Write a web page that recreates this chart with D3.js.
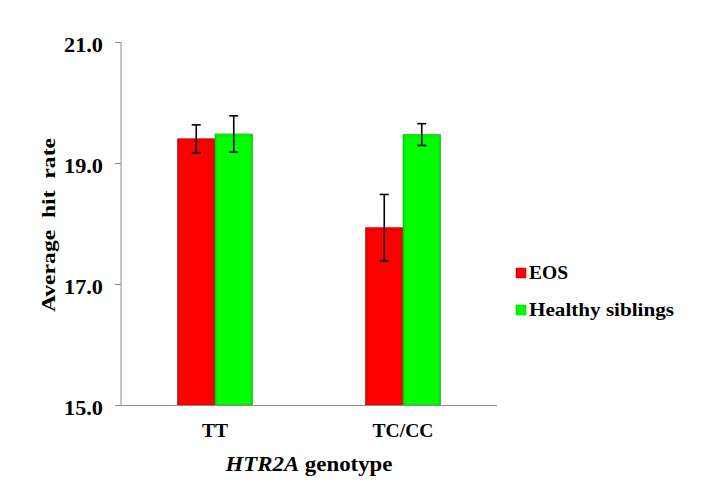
<!DOCTYPE html>
<html>
<head>
<meta charset="utf-8">
<script src="https://cdn.jsdelivr.net/npm/d3@7"></script>
<style>
    body { margin: 0; background: #fff; }
    svg text { font-family: "Liberation Serif", "Times New Roman", Times, "DejaVu Serif", serif; font-weight: bold; fill: #000; }
</style>
</head>
<body>
<svg width="704" height="498"></svg>
<script>
const genotypes = ["TT", "TC/CC"];
const groups = ["EOS", "Healthy siblings"];
const means = {
    "EOS": [19.40, 17.93],
    "Healthy siblings": [19.48, 19.47]
};
const errors = {
    "EOS": [0.23, 0.55],
    "Healthy siblings": [0.30, 0.18]
};
const yTicks = [15, 17, 19, 21];
const colors = ["#ff0000", "#00ff00"];
const edges = ["#c80000", "#00b400"];

const svg = d3.select("svg");
const defs = svg.append("defs");

// soft bevel look on the bars
colors.forEach((c, i) => {
    const g = defs.append("linearGradient")
        .attr("id", "grad" + i)
        .attr("x1", 0).attr("x2", 1).attr("y1", 0).attr("y2", 0);
    g.append("stop").attr("offset", "0%").attr("stop-color", d3.color(c).darker(0.4));
    g.append("stop").attr("offset", "8%").attr("stop-color", c);
    g.append("stop").attr("offset", "92%").attr("stop-color", c);
    g.append("stop").attr("offset", "100%").attr("stop-color", d3.color(c).darker(0.4));
});

const y = d3.scaleLinear([15, 21], [405, 42]);
const x = d3.scaleBand(genotypes, [121, 497]);
const xs = d3.scaleBand(groups, [0, 75]);

// bars
const bars = svg.append("g");
genotypes.forEach((gt, gi) => {
    const off = x(gt) + x.bandwidth() / 2 - 37.5;
    groups.forEach((gr, si) => {
        const v = means[gr][gi];
        const e = errors[gr][gi];
        const bx = off + xs(gr);
        bars.append("rect")
            .attr("x", bx)
            .attr("y", y(v))
            .attr("width", xs.bandwidth())
            .attr("height", y(15) - y(v))
            .attr("fill", "url(#grad" + si + ")")
            .attr("stroke", edges[si])
            .attr("stroke-width", 0.6);
        bars.append("rect")
            .attr("x", bx + 1)
            .attr("y", y(v))
            .attr("width", xs.bandwidth() - 2)
            .attr("height", 4)
            .attr("fill", d3.color(colors[si]).darker(0.25))
            .attr("opacity", 0.6);
        const cx = bx + xs.bandwidth() / 2;
        const eb = bars.append("g").attr("stroke", "#000").attr("stroke-width", 1.6);
        eb.append("line").attr("x1", cx).attr("x2", cx).attr("y1", y(v + e)).attr("y2", y(v - e));
        eb.append("line").attr("x1", cx - 4.5).attr("x2", cx + 4.5).attr("y1", y(v + e)).attr("y2", y(v + e));
        eb.append("line").attr("x1", cx - 4.5).attr("x2", cx + 4.5).attr("y1", y(v - e)).attr("y2", y(v - e));
    });
});

// y axis
const yAxis = svg.append("g")
    .attr("transform", "translate(121,0)")
    .call(d3.axisLeft(y).tickValues(yTicks).tickFormat(d3.format(".1f")).tickSize(6).tickPadding(12));
yAxis.attr("font-family", null);
yAxis.selectAll("line, path").attr("stroke", "#8c8c8c");
yAxis.select(".domain").attr("d", "M0,42V405");
yAxis.selectAll("text")
    .attr("font-size", 20)
    .attr("dy", "0.46em")
    .attr("textLength", 39)
    .attr("lengthAdjust", "spacingAndGlyphs");

// x axis line
svg.append("line")
    .attr("x1", 115).attr("x2", 497)
    .attr("y1", 405.5).attr("y2", 405.5)
    .attr("stroke", "#8c8c8c");

svg.append("g").selectAll("text")
    .data(genotypes)
    .join("text")
    .attr("x", d => x(d) + x.bandwidth() / 2)
    .attr("y", 437)
    .attr("text-anchor", "middle")
    .attr("font-size", 18)
    .attr("textLength", d => d === "TT" ? 26 : 61)
    .attr("lengthAdjust", "spacingAndGlyphs")
    .text(d => d);

const xt = svg.append("text")
    .attr("x", 309)
    .attr("y", 471)
    .attr("text-anchor", "middle")
    .attr("font-size", 20)
    .attr("textLength", 167)
    .attr("lengthAdjust", "spacingAndGlyphs");
xt.append("tspan").attr("font-style", "italic").text("HTR2A");
xt.append("tspan").text(" genotype");

svg.append("text")
    .attr("transform", "translate(55,225) rotate(-90)")
    .attr("text-anchor", "middle")
    .attr("font-size", 19)
    .attr("xml:space", "preserve")
    .attr("textLength", 174)
    .attr("lengthAdjust", "spacingAndGlyphs")
    .text("Average  hit  rate");

// legend
const leg = svg.append("g").attr("transform", "translate(516,0)");
groups.forEach((gr, i) => {
    const ly = 273 + i * 37;
    leg.append("rect")
        .attr("x", 0).attr("y", ly - 5)
        .attr("width", 10).attr("height", 10)
        .attr("fill", "url(#grad" + i + ")")
        .attr("stroke", edges[i]).attr("stroke-width", 0.5);
    leg.append("text")
        .attr("x", 13).attr("y", ly + 6)
        .attr("font-size", 18)
        .attr("textLength", i === 0 ? 39 : 145)
        .attr("lengthAdjust", "spacingAndGlyphs")
        .text(gr);
});
</script>
</body>
</html>
